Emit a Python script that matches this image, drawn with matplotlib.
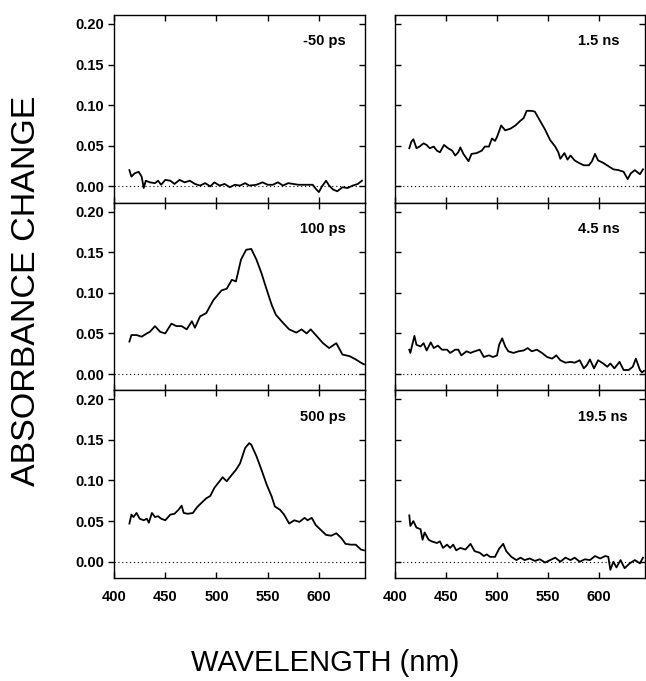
import matplotlib
matplotlib.use("Agg")
import matplotlib.pyplot as plt

plt.rcParams['font.family'] = ['Liberation Sans', 'DejaVu Sans']

# ---- data (wavelength in nm, absorbance change) ----
wl_m50 = [415, 417, 420, 424, 427, 429, 431, 435, 440, 443, 446, 450, 455, 459, 464, 469,
          474, 479, 484, 489, 494, 498, 503, 508, 513, 518, 523, 528, 532, 539, 545, 550,
          555, 560, 565, 570, 575, 580, 584, 589, 594, 597, 600, 603, 607, 610, 614, 618,
          623, 628, 633, 638, 642]
abs_m50 = [0.020, 0.012, 0.016, 0.018, 0.012, -0.002, 0.007, 0.005, 0.004, 0.007, 0.002, 0.008,
           0.007, 0.003, 0.008, 0.005, 0.007, 0.003, 0.001, 0.004, 0.000, 0.005, 0.001, 0.003,
           -0.001, 0.002, 0.001, 0.004, 0.001, 0.002, 0.005, 0.002, 0.002, 0.005, 0.001, 0.004,
           0.003, 0.002, 0.002, 0.002, 0.002, -0.003, -0.007, 0.000, 0.007, 0.001, -0.004, -0.006,
           -0.001, -0.002, 0.001, 0.003, 0.007]

wl_100 = [415, 417, 422, 427, 432, 435, 440, 445, 450, 456, 461, 466, 471, 476, 479, 484,
          490, 497, 505, 510, 515, 519, 524, 529, 534, 539, 544, 549, 554, 558, 565, 571,
          578, 583, 588, 592, 597, 604, 610, 617, 623, 630, 636, 641, 644]
abs_100 = [0.040, 0.048, 0.048, 0.046, 0.050, 0.052, 0.059, 0.052, 0.050, 0.062, 0.059, 0.059,
           0.055, 0.065, 0.057, 0.071, 0.075, 0.091, 0.103, 0.105, 0.116, 0.114, 0.141, 0.153,
           0.154, 0.141, 0.124, 0.104, 0.085, 0.073, 0.063, 0.055, 0.051, 0.055, 0.050, 0.055,
           0.048, 0.038, 0.032, 0.038, 0.024, 0.022, 0.018, 0.014, 0.012]

wl_500 = [415, 417, 419, 422, 425, 429, 432, 434, 437, 440, 443, 446, 450, 455, 459, 463,
          466, 468, 472, 477, 481, 485, 490, 494, 498, 503, 506, 510, 515, 519, 523, 528,
          532, 534, 539, 544, 549, 554, 557, 562, 566, 571, 576, 581, 586, 589, 593, 597,
          602, 607, 612, 617, 622, 626, 631, 636, 641, 644]
abs_500 = [0.047, 0.058, 0.055, 0.060, 0.053, 0.051, 0.053, 0.048, 0.060, 0.055, 0.056, 0.053,
           0.051, 0.058, 0.059, 0.064, 0.069, 0.060, 0.059, 0.060, 0.067, 0.072, 0.078, 0.081,
           0.091, 0.099, 0.104, 0.099, 0.107, 0.113, 0.121, 0.140, 0.146, 0.144, 0.130, 0.113,
           0.095, 0.080, 0.068, 0.064, 0.058, 0.047, 0.051, 0.049, 0.054, 0.051, 0.054, 0.045,
           0.039, 0.033, 0.032, 0.035, 0.029, 0.022, 0.021, 0.021, 0.015, 0.014]

wl_1p5 = [414, 416, 418, 421, 424, 428, 431, 434, 438, 441, 444, 448, 452, 456, 459, 462,
          464, 467, 472, 475, 480, 485, 488, 492, 495, 498, 500, 504, 508, 513, 518, 523,
          526, 529, 534, 537, 542, 547, 552, 557, 560, 562, 566, 569, 572, 576, 580, 585,
          590, 593, 596, 599, 604, 609, 614, 619, 624, 628, 631, 635, 640, 643]
abs_1p5 = [0.047, 0.055, 0.058, 0.047, 0.049, 0.053, 0.051, 0.047, 0.049, 0.044, 0.042, 0.051,
           0.047, 0.044, 0.038, 0.042, 0.048, 0.040, 0.031, 0.040, 0.041, 0.044, 0.049, 0.049,
           0.059, 0.056, 0.061, 0.075, 0.069, 0.071, 0.075, 0.081, 0.084, 0.093, 0.093, 0.092,
           0.081, 0.070, 0.057, 0.049, 0.042, 0.034, 0.041, 0.033, 0.038, 0.032, 0.029, 0.026,
           0.026, 0.031, 0.040, 0.032, 0.029, 0.025, 0.021, 0.020, 0.018, 0.009, 0.016, 0.020,
           0.015, 0.021]

wl_4p5 = [414, 415, 419, 421, 425, 428, 431, 435, 438, 442, 446, 451, 454, 459, 462, 465,
          470, 474, 478, 483, 487, 492, 496, 500, 502, 505, 508, 511, 516, 521, 526, 530,
          534, 539, 544, 549, 554, 558, 562, 567, 572, 576, 581, 585, 588, 591, 595, 599,
          604, 608, 611, 615, 620, 624, 629, 633, 636, 640, 642, 644]
abs_4p5 = [0.030, 0.026, 0.047, 0.036, 0.034, 0.038, 0.029, 0.039, 0.032, 0.035, 0.030, 0.030,
           0.026, 0.030, 0.030, 0.023, 0.028, 0.026, 0.028, 0.030, 0.021, 0.023, 0.021, 0.023,
           0.036, 0.044, 0.034, 0.028, 0.026, 0.028, 0.029, 0.032, 0.028, 0.030, 0.026, 0.021,
           0.019, 0.023, 0.017, 0.014, 0.015, 0.014, 0.017, 0.007, 0.011, 0.018, 0.007, 0.017,
           0.013, 0.009, 0.013, 0.007, 0.015, 0.005, 0.005, 0.009, 0.019, 0.005, 0.002, 0.004]

wl_19p5 = [414, 415, 418, 421, 425, 427, 429, 433, 436, 441, 444, 447, 451, 454, 457, 460,
           464, 469, 474, 478, 483, 487, 490, 493, 498, 502, 506, 509, 514, 519, 523, 527,
           532, 537, 542, 547, 552, 557, 562, 567, 572, 576, 581, 586, 591, 596, 601, 606,
           609, 611, 614, 617, 621, 625, 630, 635, 640, 643]
abs_19p5 = [0.057, 0.044, 0.050, 0.042, 0.040, 0.027, 0.036, 0.027, 0.025, 0.023, 0.025, 0.017,
            0.021, 0.017, 0.021, 0.014, 0.017, 0.015, 0.022, 0.013, 0.011, 0.007, 0.009, 0.006,
            0.006, 0.016, 0.022, 0.013, 0.006, 0.002, 0.005, 0.002, 0.004, 0.001, 0.003, -0.001,
            0.002, 0.005, 0.000, 0.005, 0.002, 0.005, 0.000, 0.003, 0.002, 0.007, 0.004, 0.007,
            0.006, -0.010, 0.000, -0.007, 0.002, -0.008, -0.002, 0.002, -0.002, 0.005]

panels = [
    (wl_m50, abs_m50, "-50 ps"), (wl_1p5, abs_1p5, "1.5 ns"),
    (wl_100, abs_100, "100 ps"), (wl_4p5, abs_4p5, "4.5 ns"),
    (wl_500, abs_500, "500 ps"), (wl_19p5, abs_19p5, "19.5 ns"),
]

yticks = [0.00, 0.05, 0.10, 0.15, 0.20]
xticks = [400, 450, 500, 550, 600]

fig = plt.figure(figsize=(6.46, 6.81), dpi=100)
gs = fig.add_gridspec(3, 1, left=0.1765, right=0.565, top=0.978, bottom=0.1513, hspace=0)
gs2 = fig.add_gridspec(3, 1, left=0.6115, right=0.9985, top=0.978, bottom=0.1513, hspace=0)

for i, (wl, ab, lab) in enumerate(panels):
    row, col = i // 2, i % 2
    ax = fig.add_subplot((gs if col == 0 else gs2)[row, 0])
    ax.plot(wl, ab, color='black', lw=1.3)
    ax.axhline(0, color='black', lw=0.8, ls=(0, (1, 2.5)))
    ax.set_xlim(400, 645)
    ax.set_ylim(-0.02, 0.211)
    ax.set_xticks(xticks)
    ax.set_yticks(yticks)
    for s in ax.spines.values():
        s.set_linewidth(1.0)
    ax.tick_params(axis='x', direction='in', top=True, length=4, width=1,
                   labelsize=10.5, pad=9, labelbottom=(row == 2))
    for t in ax.get_xticklabels():
        t.set_fontweight('bold')
    if col == 0:
        ax.set_yticklabels(["%.2f" % v for v in yticks], fontweight='bold')
        ax.tick_params(axis='y', left=True, direction='out', length=4, width=1, pad=3,
                       labelsize=10.5, labelleft=True, right=False)
        ax.text(0.925, 0.86, lab, transform=ax.transAxes, ha='right', va='center',
                fontsize=10.5, fontweight='bold')
        # inward ticks on the right side of the left panels
        sec = ax.secondary_yaxis('right')
        sec.set_yticks(yticks)
        sec.tick_params(direction='in', length=4, width=1, labelright=False)
        sec.spines['right'].set_visible(False)
    else:
        ax.tick_params(axis='y', direction='in', left=True, right=True, length=4, width=1,
                       labelleft=False)
        ax.text(0.732, 0.86, lab, transform=ax.transAxes, ha='left', va='center',
                fontsize=10.5, fontweight='bold')

fig.text(0.041, 0.573, "ABSORBANCE CHANGE", rotation=90, ha='center', va='center', fontsize=24.5)
fig.text(0.503, 0.027, "WAVELENGTH (nm)", ha='center', va='center', fontsize=21)

fig.savefig("out.png", dpi=100)
